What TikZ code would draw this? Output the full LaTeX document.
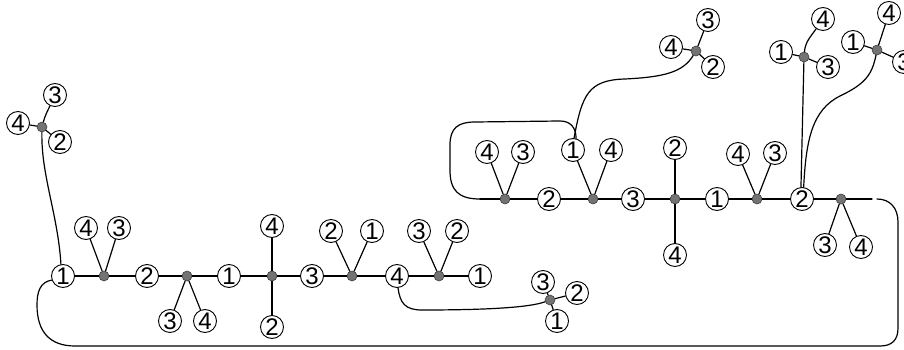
\documentclass[tikz,border=0pt]{standalone}
\usepackage{fontspec}
\setmainfont{Liberation Sans}
\begin{document}
\begin{tikzpicture}[x=1pt,y=-1pt,
  num/.style={circle,draw,line width=0.9pt,fill=white,minimum size=23pt,inner sep=0pt,font=\fontsize{24}{24}\selectfont},
  jn/.style={circle,draw=black!75,line width=0.6pt,fill=black!55,minimum size=10pt,inner sep=0pt},
  ln/.style={line width=1.2pt,line cap=round}]
\useasboundingbox (0,0) rectangle (904,350);
% ---- left chain
\node[num] (L1) at (63,276) {1};
\node[jn]  (Ld1) at (104,276) {};
\node[num] (L4a) at (86,228) {4};
\node[num] (L3a) at (119,228) {3};
\node[num] (L2) at (147,276) {2};
\node[jn]  (Ld2) at (187,276) {};
\node[num] (L3b) at (170,321) {3};
\node[num] (L4b) at (205,321) {4};
\node[num] (L1b) at (229,276) {1};
\node[jn]  (Ld3) at (272,276) {};
\node[num] (L4c) at (272,226) {4};
\node[num] (L2c) at (272,327) {2};
\node[num] (L3) at (312,276) {3};
\node[jn]  (Ld4) at (352,276) {};
\node[num] (L2d) at (331,231) {2};
\node[num] (L1d) at (372,231) {1};
\node[num] (L4) at (397,276) {4};
\node[jn]  (Ld5) at (439,276) {};
\node[num] (L3e) at (419,231) {3};
\node[num] (L2e) at (457,231) {2};
\node[num] (L1e) at (480,276) {1};
% ---- top-left cluster
\node[jn]  (Td) at (42,127) {};
\node[num] (T4) at (18,123) {4};
\node[num] (T3) at (55,95) {3};
\node[num] (T2) at (60,142) {2};
% ---- bottom cluster
\node[jn]  (Bd) at (550,300) {};
\node[num] (B3) at (543,282) {3};
\node[num] (B2) at (577,293) {2};
\node[num] (B1) at (557,321) {1};
% ---- right chain
\node[jn]  (Rd1) at (505,199) {};
\node[num] (R4a) at (487,152) {4};
\node[num] (R3a) at (523,152) {3};
\node[num] (R2) at (549,199) {2};
\node[jn]  (Rd2) at (593,199) {};
\node[num] (R1a) at (573,150) {1};
\node[num] (R4b) at (611,150) {4};
\node[num] (R3) at (633,199) {3};
\node[jn]  (Rd3) at (675,199) {};
\node[num] (R2c) at (675,148) {2};
\node[num] (R4c) at (675,255) {4};
\node[num] (R1) at (717,199) {1};
\node[jn]  (Rd4) at (757,199) {};
\node[num] (R4d) at (738,154) {4};
\node[num] (R3d) at (775,153) {3};
\node[num] (R2e) at (802,199) {2};
\node[jn]  (Rd5) at (841,199) {};
\node[num] (R3f) at (825,245) {3};
\node[num] (R4f) at (861,247) {4};
\coordinate (Rend) at (872,199);
\coordinate (Lend) at (877,199);
\coordinate (Rl) at (480,199);
% ---- top clusters
\node[jn]  (Pd) at (696,51) {};
\node[num] (P4) at (671,47) {4};
\node[num] (P3) at (708,20) {3};
\node[num] (P2) at (713,67) {2};
\node[jn]  (Ad) at (804,57) {};
\node[num] (A1) at (781,52) {1};
\node[num] (A4) at (823,19) {4};
\node[num] (A3) at (828,67) {3};
\node[jn]  (Cd) at (877,50) {};
\node[num] (C1) at (853,42) {1};
\node[num] (C4) at (889,13) {4};
\node[num] (C3) at (904,62) {3};
% ---- connectors
\begin{scope}[ln]
\draw (L1)--(Ld1)--(L2)--(Ld2)--(L1b)--(Ld3)--(L3)--(Ld4)--(L4)--(Ld5)--(L1e);
\draw (Ld1)--(L4a); \draw (Ld1)--(L3a);
\draw (Ld2)--(L3b); \draw (Ld2)--(L4b);
\draw (Ld3)--(L4c); \draw (Ld3)--(L2c);
\draw (Ld4)--(L2d); \draw (Ld4)--(L1d);
\draw (Ld5)--(L3e); \draw (Ld5)--(L2e);
\draw (Td)--(T4); \draw (Td) to[out=75,in=245] (T3); \draw (Td)--(T2);
\draw (Td) .. controls (41,175) and (58,215) .. (L1.100);
\draw (Bd)--(B3); \draw (Bd)--(B2); \draw (Bd)--(B1);
\draw (L4.275) .. controls (400,303) and (405,310) .. (422,310) .. controls (480,310) and (528,308) .. (Bd);
\draw (Rl)--(Rd1)--(R2)--(Rd2)--(R3)--(Rd3)--(R1)--(Rd4)--(R2e)--(Rd5)--(Rend);
\draw (Rd1)--(R4a); \draw (Rd1)--(R3a);
\draw (Rd2)--(R1a); \draw (Rd2)--(R4b);
\draw (Rd3)--(R2c); \draw (Rd3)--(R4c);
\draw (Rd4)--(R4d); \draw (Rd4)--(R3d);
\draw (Rd5)--(R3f); \draw (Rd5)--(R4f);
\draw (Rl) .. controls (458,199) and (450,190) .. (450,170) -- (450,145) .. controls (450,128) and (458,122) .. (475,122) -- (560,121) .. controls (570,121) and (576,127) .. (R1a.75);
\draw (R1a.85) .. controls (582,95) and (588,80) .. (625,79) .. controls (665,77) and (683,72) .. (Pd);
\draw (Pd)--(P4); \draw (Pd)--(P3); \draw (Pd)--(P2);
\draw (R2e.95) -- (Ad);
\draw (R2e.82) .. controls (806,140) and (812,110) .. (840,96) .. controls (865,84) and (872,75) .. (Cd);
\draw (Ad)--(A1); \draw (Ad) to[out=85,in=235] (A4); \draw (Ad)--(A3);
\draw (Cd)--(C1); \draw (Cd)--(C4); \draw (Cd)--(C3);
\draw (L1.200) .. controls (40,282) and (37,292) .. (37,305) .. controls (37,332) and (50,346) .. (75,346) -- (880,346) .. controls (892,346) and (898,340) .. (898,328) -- (898,222) .. controls (898,208) and (890,199) .. (Lend);
\end{scope}
\end{tikzpicture}
\end{document}
